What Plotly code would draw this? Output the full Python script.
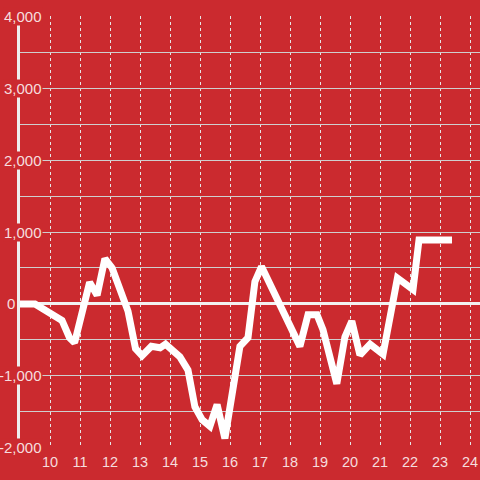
import plotly.graph_objects as go

# data
hours = [9.0, 9.5, 10.4, 10.65, 10.82, 11.32, 11.57, 11.83, 12.07, 12.6, 12.85, 13.07,
         13.38, 13.67, 13.85, 14.33, 14.6, 14.83, 15.07, 15.33, 15.57, 15.83,
         16.33, 16.6, 16.83, 17.05, 18.33, 18.6, 18.9, 19.1, 19.56, 19.83,
         20.06, 20.33, 20.67, 21.1, 21.58, 22.1, 22.3, 23.4]
values = [0, 0, -230, -470, -540, 300, 120, 630, 500, -100, -620, -720,
          -590, -610, -560, -736, -920, -1430, -1610, -1700, -1400, -1870,
          -590, -470, 310, 520, -590, -150, -150, -360, -1110, -460,
          -240, -710, -560, -700, 360, 200, 890, 890]
x_ticks = list(range(10, 25))
y_labels = [-2000, -1000, 0, 1000, 2000, 3000, 4000]
y_grid = list(range(-2000, 4001, 500))

BG = "#cb2a2f"
TXT = "rgba(255,255,255,0.85)"
FONT = "Liberation Sans, Arial, sans-serif"

fig = go.Figure(go.Scatter(x=hours, y=values, mode="lines",
                           line=dict(color="#ffffff", width=7),
                           hoverinfo="skip"))

annotations = []
for v in y_labels:
    annotations.append(dict(
        x=0, xref="paper", y=v, yref="y", text=f"{v:,}",
        showarrow=False, xanchor="right", yanchor="middle",
        xshift=-4 if v == 0 else 23, bgcolor=BG, borderpad=0,
        font=dict(family=FONT, size=15, color=TXT)))

fig.update_layout(
    width=480, height=480,
    margin=dict(l=20, r=0, t=16, b=32, autoexpand=False),
    paper_bgcolor=BG, plot_bgcolor=BG,
    showlegend=False,
    annotations=annotations,
    xaxis=dict(range=[9, 24.333], tickvals=x_ticks, ticks="", automargin=False,
               ticklabelstandoff=3,
               showgrid=True, gridcolor="#e6e6e6", griddash="dot", gridwidth=1,
               zeroline=False, showline=False,
               tickfont=dict(family=FONT, size=14.5, color=TXT)),
    yaxis=dict(range=[-2003, 4003], tickvals=y_grid, showticklabels=False, ticks="",
               automargin=False,
               showgrid=True, gridcolor="#cfcfcf", gridwidth=1,
               zeroline=True, zerolinecolor="#f2f2f2", zerolinewidth=3,
               showline=True, linecolor="#eeeeee", linewidth=3),
)

fig.write_html("out.html",
               config={"displayModeBar": False},
               post_script="document.body.style.margin='0';document.body.style.background='" + BG + "';")
